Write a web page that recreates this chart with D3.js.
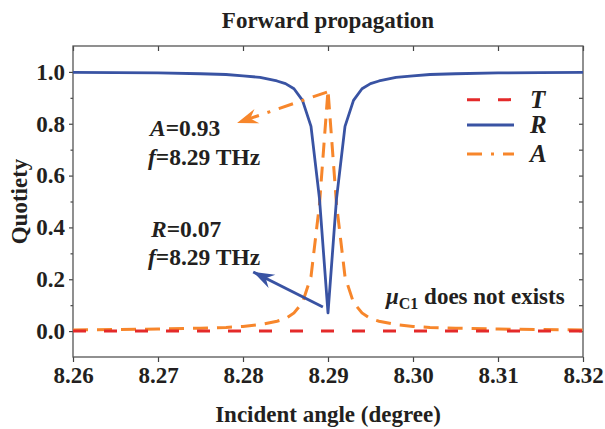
<!DOCTYPE html>
<html><head><meta charset="utf-8">
<script src="https://cdn.jsdelivr.net/npm/d3@7"></script>
<style>body{margin:0;background:#fff}</style></head>
<body><svg id="c" width="605" height="429"></svg>
<script>
// ---- data ----
const angles = [8.260, 8.265, 8.270, 8.275, 8.278, 8.280, 8.282, 8.284, 8.285, 8.286, 8.287, 8.288, 8.289, 8.290, 8.291, 8.292, 8.293, 8.294, 8.295, 8.296, 8.298, 8.300, 8.302, 8.305, 8.310, 8.315, 8.320];
const seriesT = [0, 0, 0, 0, 0, 0, 0, 0, 0, 0, 0, 0, 0, 0, 0, 0, 0, 0, 0, 0, 0, 0, 0, 0, 0, 0, 0];
const seriesR = [0.998, 0.997, 0.996, 0.993, 0.990, 0.985, 0.979, 0.965, 0.955, 0.935, 0.890, 0.790, 0.510, 0.070, 0.510, 0.790, 0.890, 0.935, 0.955, 0.965, 0.979, 0.985, 0.990, 0.993, 0.996, 0.997, 0.998];
const seriesA = [0.004, 0.006, 0.008, 0.011, 0.014, 0.018, 0.025, 0.038, 0.048, 0.070, 0.110, 0.210, 0.490, 0.930, 0.490, 0.210, 0.110, 0.070, 0.048, 0.038, 0.025, 0.018, 0.014, 0.011, 0.008, 0.006, 0.004];
const xTicks = [8.26, 8.27, 8.28, 8.29, 8.30, 8.31, 8.32];
const yTicks = [0.0, 0.2, 0.4, 0.6, 0.8, 1.0];
const yMinor = [0.1, 0.3, 0.5, 0.7, 0.9];
const legendLabels = ["T", "R", "A"];
const peakA = {angle: 8.29, value: 0.93, freq: 8.29};
const dipR = {angle: 8.29, value: 0.07, freq: 8.29};

// ---- layout ----
const W = 605, H = 429;
const m = {left: 73, right: 22, top: 46, bottom: 72};
const svg = d3.select("#c");
const x = d3.scaleLinear().domain([8.26, 8.32]).range([m.left, W - m.right]);
const y = d3.scaleLinear().domain([-0.1, 1.1]).range([H - m.bottom, m.top]);
const font = "'Liberation Serif','Times New Roman',serif";
const colT = "#e42a2a", colR = "#3953a3", colA = "#f7862b";
const dashT = "13,18", dashA = "15,9,3,9", dashCurveA = "15,9";

// axes
const gB = svg.append("g").attr("transform", `translate(0,${y.range()[0]})`)
  .call(d3.axisBottom(x).tickValues(xTicks).tickSize(5).tickPadding(5).tickFormat(d3.format(".2f")));
const gT = svg.append("g").attr("transform", `translate(0,${m.top})`)
  .call(d3.axisTop(x).tickValues(xTicks).tickSize(-5).tickFormat(""));
const gL = svg.append("g").attr("transform", `translate(${m.left},0)`)
  .call(d3.axisLeft(y).tickValues(yTicks).tickSize(4).tickPadding(4).tickFormat(d3.format(".1f")));
const gLm = svg.append("g").attr("transform", `translate(${m.left},0)`)
  .call(d3.axisLeft(y).tickValues(yMinor).tickSize(2.5).tickFormat(""));
const gR = svg.append("g").attr("transform", `translate(${W - m.right},0)`)
  .call(d3.axisRight(y).tickValues(yTicks.concat(yMinor)).tickSize(-4).tickFormat(""));
[gB, gT, gL, gLm, gR].forEach(g => {
  g.select(".domain").remove();
  g.selectAll("line").attr("stroke", "#444").attr("stroke-width", 1.2);
  g.selectAll("text").attr("font-family", font).attr("font-weight", "bold")
    .attr("font-size", 23).attr("fill", "#231f20");
});
svg.append("rect").attr("x", m.left).attr("y", m.top)
  .attr("width", W - m.right - m.left).attr("height", H - m.bottom - m.top)
  .attr("fill", "none").attr("stroke", "#555").attr("stroke-width", 1.3);

// lines
const line = vals => d3.line().x((d, i) => x(angles[i])).y(d => y(d))(vals);
svg.append("path").attr("d", line(seriesA)).attr("fill", "none").attr("stroke", colA)
  .attr("stroke-width", 3).attr("stroke-dasharray", dashCurveA);
svg.append("path").attr("d", line(seriesR)).attr("fill", "none").attr("stroke", colR)
  .attr("stroke-width", 2.8).attr("stroke-linejoin", "round");
svg.append("path").attr("d", line(seriesT)).attr("fill", "none").attr("stroke", colT)
  .attr("stroke-width", 3).attr("stroke-dasharray", dashT);

// markers
const defs = svg.append("defs");
[["arrA", colA], ["arrR", colR]].forEach(([id, c]) => {
  defs.append("marker").attr("id", id).attr("markerUnits", "userSpaceOnUse")
    .attr("viewBox", "-22 -8 23 16").attr("refX", 0).attr("refY", 0)
    .attr("markerWidth", 23).attr("markerHeight", 16).attr("orient", "auto")
    .append("path").attr("d", "M0,0 L-21,-7.5 L-14,0 L-21,7.5 Z").attr("fill", c);
});
// annotation arrows (data coordinates)
svg.append("path")
  .attr("d", d3.line()([[x(peakA.angle) - 1, y(peakA.value) + 2], [x(8.2793), y(0.803)]]))
  .attr("stroke", colA).attr("stroke-width", 3).attr("stroke-dasharray", dashA)
  .attr("fill", "none").attr("marker-end", "url(#arrA)");
svg.append("path")
  .attr("d", d3.line()([[x(8.2894), y(0.093)], [x(8.2812), y(0.228)]]))
  .attr("stroke", colR).attr("stroke-width", 2.8)
  .attr("fill", "none").attr("marker-end", "url(#arrR)");

// text helpers
function rich(xp, yp, parts, size) {
  const t = svg.append("text").attr("x", xp).attr("y", yp).attr("font-family", font)
    .attr("font-weight", "bold").attr("font-size", size).attr("fill", "#231f20");
  parts.forEach(p => {
    const s = t.append("tspan").text(p.t);
    if (p.i) s.attr("font-style", "italic");
    if (p.s) s.attr("font-size", p.s);
    if (p.dy) s.attr("dy", p.dy);
  });
  return t;
}
rich(150, 136, [{t: "A", i: 1}, {t: "=" + peakA.value.toFixed(2)}], 23.5);
rich(148, 165, [{t: "f", i: 1}, {t: "=" + peakA.freq.toFixed(2) + " THz"}], 23.5);
rich(151, 237, [{t: "R", i: 1}, {t: "=" + dipR.value.toFixed(2)}], 23.5);
rich(148, 265, [{t: "f", i: 1}, {t: "=" + dipR.freq.toFixed(2) + " THz"}], 23.5);
rich(386, 304, [{t: "μ", i: 1}, {t: "C1", s: 16, dy: 5}, {t: " does not exists", dy: -5}], 23);

// title and axis labels
svg.append("text").attr("x", (m.left + W - m.right) / 2).attr("y", 28).attr("text-anchor", "middle")
  .attr("font-family", font).attr("font-weight", "bold").attr("font-size", 23).attr("fill", "#231f20")
  .text("Forward propagation");
svg.append("text").attr("x", (m.left + W - m.right) / 2).attr("y", 422).attr("text-anchor", "middle")
  .attr("font-family", font).attr("font-weight", "bold").attr("font-size", 23).attr("fill", "#231f20")
  .text("Incident angle (degree)");
svg.append("text").attr("transform", `translate(27,${(m.top + H - m.bottom) / 2}) rotate(-90)`)
  .attr("text-anchor", "middle")
  .attr("font-family", font).attr("font-weight", "bold").attr("font-size", 23).attr("fill", "#231f20")
  .text("Quotiety");

// legend
const legStyles = [
  {c: colT, dash: dashT, w: 3},
  {c: colR, dash: null, w: 3},
  {c: colA, dash: dashA, w: 3}
];
const legY = [0.893, 0.795, 0.683];
legendLabels.forEach((lab, i) => {
  const yy = y(legY[i]);
  svg.append("line").attr("x1", 467).attr("x2", 514).attr("y1", yy).attr("y2", yy)
    .attr("stroke", legStyles[i].c).attr("stroke-width", legStyles[i].w)
    .attr("stroke-dasharray", legStyles[i].dash);
  svg.append("text").attr("x", 530).attr("y", yy + 8).attr("font-family", font)
    .attr("font-weight", "bold").attr("font-style", "italic").attr("font-size", 25)
    .attr("fill", "#231f20").text(lab);
});
</script></body></html>
